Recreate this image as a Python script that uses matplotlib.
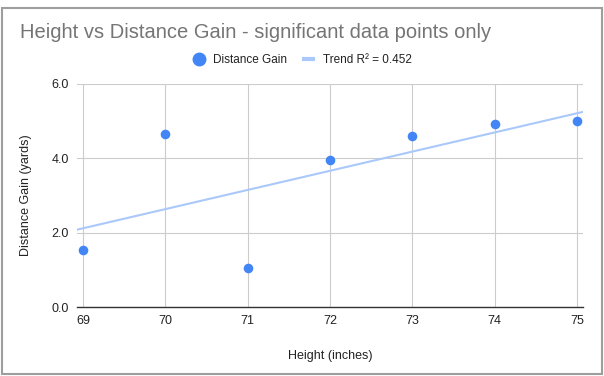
import matplotlib.pyplot as plt
from matplotlib.lines import Line2D
from matplotlib.patches import Rectangle

# data
height_in = [69, 70, 71, 72, 73, 74, 75]
distance_gain = [1.53, 4.65, 1.05, 3.95, 4.60, 4.92, 5.00]
trend_x = [68.925, 75.075]
trend_y = [2.08, 5.25]
r_squared = 0.452
y_ticks = [0.0, 2.0, 4.0, 6.0]

plt.rcParams['font.family'] = ['Liberation Sans', 'DejaVu Sans']

W, H = 604, 376
fig = plt.figure(figsize=(W / 100, H / 100), dpi=100)
fig.patch.set_facecolor('white')

# outer chart border
fig.add_artist(Rectangle((2 / W, 2 / H), 600 / W, 366 / H, transform=fig.transFigure,
                         fill=False, edgecolor='#9e9e9e', linewidth=1.5))

ax = fig.add_axes([77 / W, (H - 307) / H, 506 / W, 223 / H])

ax.plot(trend_x, trend_y, color='#aac8fa', linewidth=1.5, zorder=2)
ax.scatter(height_in, distance_gain, s=48, color='#4285f4', zorder=3, linewidths=0)

ax.set_xlim(68.925, 75.075)
ax.set_ylim(0, 6)
ax.set_xticks(height_in)
ax.set_yticks(y_ticks)
ax.set_yticklabels([f'{v:.1f}' for v in y_ticks])
ax.grid(True, color='#cccccc', linewidth=0.8, zorder=0)
ax.set_axisbelow(True)
for s in ['top', 'right', 'left']:
    ax.spines[s].set_visible(False)
ax.spines['bottom'].set_color('#333333')
ax.spines['bottom'].set_linewidth(1.0)
ax.spines['bottom'].set_zorder(4)
ax.tick_params(length=0, labelsize=9, colors='#222222', pad=6)

ax.set_xlabel('Height (inches)', fontsize=9, color='#222222', labelpad=16)
ax.set_ylabel('Distance Gain (yards)', fontsize=9, color='#222222', labelpad=14)

fig.text(20 / W, 1 - 32 / H, 'Height vs Distance Gain - significant data points only',
         fontsize=14.5, color='#757575', va='center', ha='left')

handles = [Line2D([], [], marker='o', linestyle='none', markersize=9, color='#4285f4'),
           Line2D([], [], color='#aac8fa', linewidth=3)]
fig.legend(handles, ['Distance Gain', f'Trend R\u00b2 = {r_squared}'],
           loc='center', bbox_to_anchor=(303 / W, 1 - 60 / H), ncol=2, frameon=False,
           fontsize=8.5, handlelength=0.75, handletextpad=0.8, columnspacing=1.5,
           labelcolor='#222222')

fig.savefig('out.png', dpi=100)
